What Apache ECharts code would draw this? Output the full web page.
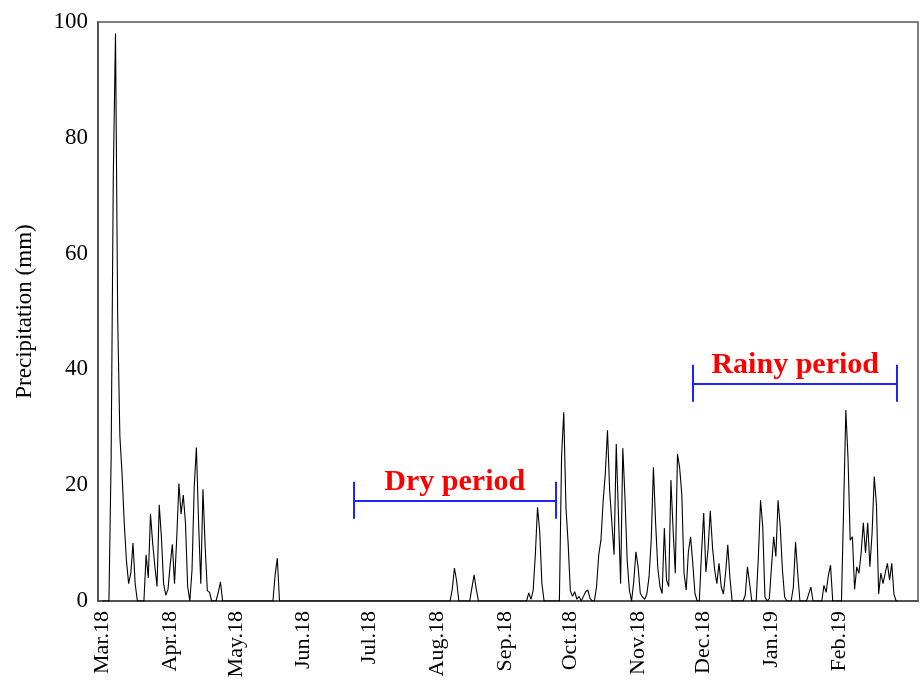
<!DOCTYPE html>
<html>
<head>
<meta charset="utf-8">
<script src="https://cdn.jsdelivr.net/npm/echarts@6/dist/echarts.min.js"></script>
<style>
  html, body { margin: 0; padding: 0; background: #fff; }
  #chart { width: 920px; height: 685px; }
</style>
</head>
<body>
<div id="chart"></div>
<script>
// daily precipitation (mm), one array per month, Mar 2018 - Feb 2019
const mar18 = [0, 0, 0, 0, 24.5, 73.5, 98, 49, 28.5, 22, 13.5, 7, 3, 4.8, 10, 3, 0, 0, 0, 0, 8, 4, 15, 10, 6, 2.5, 16.6, 11, 3, 1, 2]
const apr18 = [6.2, 9.8, 3, 10.8, 20.3, 15, 18.3, 13.5, 2.5, 0, 5.4, 19.7, 26.5, 13.5, 3, 19.3, 9.4, 1.8, 1.5, 0, 0, 0, 1.5, 3.3, 0, 0, 0, 0, 0, 0]
const may18 = [0, 0, 0, 0, 0, 0, 0, 0, 0, 0, 0, 0, 0, 0, 0, 0, 0, 0, 4.5, 7.4, 0, 0, 0, 0, 0, 0, 0, 0, 0, 0, 0]
const jun18 = [0, 0, 0, 0, 0, 0, 0, 0, 0, 0, 0, 0, 0, 0, 0, 0, 0, 0, 0, 0, 0, 0, 0, 0, 0, 0, 0, 0, 0, 0]
const jul18 = [0, 0, 0, 0, 0, 0, 0, 0, 0, 0, 0, 0, 0, 0, 0, 0, 0, 0, 0, 0, 0, 0, 0, 0, 0, 0, 0, 0, 0, 0, 0]
const aug18 = [0, 0, 0, 0, 0, 0, 0, 2, 5.7, 3.5, 0, 0, 0, 0, 0, 0, 2.3, 4.5, 2, 0, 0, 0, 0, 0, 0, 0, 0, 0, 0, 0, 0]
const sep18 = [0, 0, 0, 0, 0, 0, 0, 0, 0, 0, 0, 1.4, 0.3, 1.8, 8, 16.2, 12, 3, 0, 0, 0, 0, 0, 0, 0, 0, 25, 32.6, 16.2, 10]
const oct18 = [1.8, 0.8, 1.6, 0.3, 0.8, 0, 0.8, 1.6, 1.9, 0.5, 0, 0, 2.5, 8, 10.5, 17.2, 22, 29.5, 19, 13.5, 8, 27.1, 15, 3, 26.4, 17.8, 7, 1.9, 0, 3.3, 8.5]
const nov18 = [5.9, 1.3, 0.7, 0.3, 1.2, 4.2, 10.5, 23.1, 13.5, 5.7, 2.5, 1.3, 12.6, 3.6, 2.5, 20.9, 12.3, 4.8, 25.4, 23, 18.3, 4.8, 1.9, 8.5, 11.1, 6.5, 1.3, 0, 0, 8.3]
const dec18 = [15.2, 5, 9, 15.6, 9.4, 5.4, 3, 6.5, 2.5, 1.2, 4.8, 9.7, 4, 0, 0, 0, 0, 0, 0, 1, 5.9, 3, 0, 0, 0, 7.7, 17.4, 12.8, 0.7, 0, 0.4]
const jan19 = [5.9, 11.1, 7.7, 17.4, 12.8, 5.4, 0.7, 0, 0, 0, 2.4, 10.2, 4.8, 0, 0, 0, 0, 1.2, 2.4, 0, 0, 0, 0, 0, 2.7, 1.5, 4.4, 6.2, 0, 0, 0]
const feb19 = [0, 0, 16.3, 33, 24.6, 10.5, 11.1, 2, 5.9, 4.8, 8.3, 13.5, 8.3, 13.5, 5.9, 11.7, 21.5, 16.6, 1.2, 4.8, 3, 4.8, 6.5, 3.6, 6.5, 1.2, 0, 0]

const monthLabels = ['Mar.18', 'Apr.18', 'May.18', 'Jun.18', 'Jul.18', 'Aug.18', 'Sep.18', 'Oct.18', 'Nov.18', 'Dec.18', 'Jan.19', 'Feb.19']
const yTicks = [0, 20, 40, 60, 80, 100]

// annotation periods in day index / mm
const dryPeriod = [114.9, 207.4]
const dryLevel = 17.4
const rainyPeriod = [270.2, 363.5]
const rainyLevel = 37.6
const capHalf = 3.2

const months = [mar18, apr18, may18, jun18, jul18, aug18, sep18, oct18, nov18, dec18, jan19, feb19]
const monthStarts = []
const daily = []
months.forEach(m => {
  monthStarts.push(daily.length)
  m.forEach(v => daily.push(v))
})
const seriesData = daily.map((v, i) => [i, v])

const serif = 'Liberation Serif, Times New Roman, serif'

const bracketLabel = text => ({
  show: true,
  formatter: text,
  position: 'insideMiddleTop',
  distance: 3,
  color: '#ff0000',
  fontFamily: serif,
  fontWeight: 'bold',
  fontSize: 30
})

// horizontal bar with a label plus two end caps
const bracket = (range, level, text) => [
  [
    { coord: [range[0], level], label: bracketLabel(text) },
    { coord: [range[1], level] }
  ],
  [{ coord: [range[0], level - capHalf] }, { coord: [range[0], level + capHalf] }],
  [{ coord: [range[1], level - capHalf] }, { coord: [range[1], level + capHalf] }]
]

const chart = echarts.init(document.getElementById('chart'))
chart.setOption({
  animation: false,
  backgroundColor: '#fff',
  grid: {
    left: 98,
    right: 2,
    top: 22,
    bottom: 84,
    show: true,
    borderColor: '#555',
    borderWidth: 1.5
  },
  xAxis: {
    type: 'value',
    min: -2,
    max: 373,
    splitLine: { show: false },
    axisLine: { onZero: false, lineStyle: { color: '#444', width: 1.5 } },
    axisTick: { show: false },
    axisLabel: {
      customValues: monthStarts,
      formatter: v => monthLabels[monthStarts.indexOf(v)] || '',
      rotate: 90,
      margin: 10,
      color: '#000',
      fontFamily: serif,
      fontSize: 22
    }
  },
  yAxis: {
    type: 'value',
    min: 0,
    max: 100,
    interval: 20,
    name: 'Precipitation (mm)',
    nameLocation: 'middle',
    nameGap: 62,
    nameTextStyle: { color: '#000', fontFamily: serif, fontSize: 23 },
    splitLine: { show: false },
    axisLine: { show: true, onZero: false, lineStyle: { color: '#444', width: 1.5 } },
    axisTick: { show: false },
    axisLabel: {
      customValues: yTicks,
      margin: 10,
      color: '#000',
      fontFamily: serif,
      fontSize: 23
    }
  },
  series: [
    {
      type: 'line',
      data: seriesData,
      symbol: 'none',
      lineStyle: { color: '#000', width: 1.1 },
      markLine: {
        silent: true,
        symbol: 'none',
        animation: false,
        lineStyle: { color: '#2222ff', width: 2, type: 'solid' },
        label: { show: false },
        emphasis: { disabled: true },
        data: [
          ...bracket(dryPeriod, dryLevel, 'Dry period'),
          ...bracket(rainyPeriod, rainyLevel, 'Rainy period')
        ]
      }
    }
  ]
})
</script>
</body>
</html>
